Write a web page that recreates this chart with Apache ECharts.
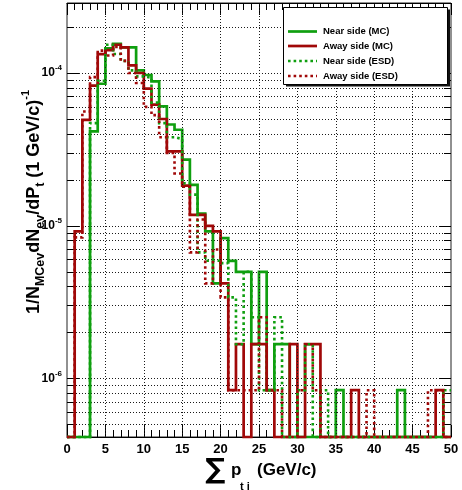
<!DOCTYPE html>
<html>
<head>
<meta charset="utf-8">
<script src="https://cdn.jsdelivr.net/npm/echarts@6/dist/echarts.min.js"></script>
<style>
  html, body { margin: 0; padding: 0; background: #fff; }
  #chart { width: 462px; height: 490px; }
</style>
</head>
<body>
<div id="chart"></div>
<script>
// Histogram bin edges, 1 GeV/c wide bins from 0 to 50
const binEdges = [0,1,2,3,4,5,6,7,8,9,10,11,12,13,14,15,16,17,18,19,20,21,22,23,24,25,
  26,27,28,29,30,31,32,33,34,35,36,37,38,39,40,41,42,43,44,45,46,47,48,49,50];

// Per-bin contents (one value per bin, 50 bins)
const nearSideMC = [0,0,0,4.15e-5,8.5e-5,1.45e-4,1.55e-4,1.47e-4,1.47e-4,1.04e-4,
  9.7e-5,8.8e-5,6.05e-5,4.6e-5,4.25e-5,2.71e-5,1.85e-5,1.2e-5,9.2e-6,4.2e-6,
  8.3e-6,5.9e-6,5.0e-6,5.0e-6,1.68e-6,5.0e-6,8.4e-7,1.68e-6,1.68e-6,0,
  0,0,0,0,0,8.4e-7,0,0,0,0,
  0,0,0,8.4e-7,0,0,0,0,0,0];

const awaySideMC = [0,9.2e-6,4.94e-5,8.26e-5,1.33e-4,1.41e-4,1.53e-4,1.47e-4,1.12e-4,1.0e-4,
  7.9e-5,6.2e-5,5.0e-5,3.07e-5,3.07e-5,1.83e-5,1.18e-5,1.18e-5,1.0e-5,9.2e-6,
  4.2e-6,8.4e-7,1.68e-6,0,1.68e-6,1.68e-6,8.4e-7,0,0,1.68e-6,
  0,1.68e-6,1.68e-6,0,0,0,0,8.4e-7,0,0,
  0,0,0,0,0,0,0,0,8.4e-7,0];

const nearSideESD = [0,0,0,4.7e-5,8.9e-5,1.53e-4,1.33e-4,1.2e-4,1.04e-4,9.5e-5,
  9.3e-5,6.4e-5,4.7e-5,3.8e-5,3.7e-5,1.9e-5,1.6e-5,6.7e-6,5.9e-6,5.9e-6,
  5.7e-6,3.4e-6,1.68e-6,5.0e-6,2.52e-6,8.4e-7,8.4e-7,2.52e-6,0,0,
  8.4e-7,1.68e-6,0,8.4e-7,0,0,0,0,0,0,
  0,0,0,0,0,0,0,0,0,8.4e-7];

const awaySideESD = [0,8.4e-6,5.6e-5,9.4e-5,1.40e-4,1.30e-4,1.48e-4,1.2e-4,1.0e-4,8.6e-5,
  6.0e-5,5.3e-5,3.8e-5,3.0e-5,2.2e-5,1.8e-5,6.7e-6,1.1e-5,4.2e-6,7.0e-6,
  3.4e-6,8.4e-7,8.4e-7,8.4e-7,8.4e-7,2.52e-6,8.4e-7,8.4e-7,0,0,
  8.4e-7,1.68e-6,8.4e-7,0,0,0,0,0,0,8.4e-7,
  0,0,0,0,0,0,0,8.4e-7,8.4e-7,0];

const seriesNames = ['Near side (MC)', 'Away side (MC)', 'Near side (ESD)', 'Away side (ESD)'];

// Log axis range and tick positions
const yMin = 4.15e-7;
const yMax = 2.87e-4;
const yTicksMajor = [1e-6, 1e-5, 1e-4];
const yTicksMinor = [5e-7,6e-7,7e-7,8e-7,9e-7,
  2e-6,3e-6,4e-6,5e-6,6e-6,7e-6,8e-6,9e-6,
  2e-5,3e-5,4e-5,5e-5,6e-5,7e-5,8e-5,9e-5,
  2e-4];
const xGridValues = [5,10,15,20,25,30,35,40,45];

const GREEN = '#0f9f0f';
const RED = '#a00808';
const FONT = '"Liberation Sans", Arial, Helvetica, sans-serif';

// Outline of a histogram: flat top over each bin, empty bins sit on the frame bottom
function histOutline(values) {
  const pts = [];
  for (let i = 0; i < values.length; i++) {
    const v = values[i] > 0 ? values[i] : yMin;
    pts.push([binEdges[i], v], [binEdges[i + 1], v]);
  }
  return pts;
}

const gridDots = { color: '#1a1a1a', type: [1, 2], width: 1 };

function logYAxis(position, ticks, tickLen, withLabels, withSplit) {
  return {
    type: 'log', min: yMin, max: yMax, position: position,
    axisLine: { show: false },
    axisTick: { show: true, inside: true, length: tickLen, customValues: ticks,
      lineStyle: { color: '#000', width: 1 } },
    minorTick: { show: false },
    axisLabel: withLabels ? {
      show: true, customValues: ticks, margin: 5,
      formatter: function (v) {
        const e = Math.round(Math.log10(v));
        if (Math.abs(Math.log10(v) - e) > 1e-6) return '';
        return '{b|10}{s|' + e + '}';
      },
      rich: {
        b: { fontSize: 12, fontWeight: 'bold', fontFamily: FONT, color: '#000', lineHeight: 18, verticalAlign: 'middle' },
        s: { fontSize: 8, fontWeight: 'bold', fontFamily: FONT, color: '#000', lineHeight: 9, verticalAlign: 'top' }
      }
    } : { show: false },
    splitLine: withSplit ? { show: true, lineStyle: gridDots } : { show: false }
  };
}

function linearXAxis(position, withLabels) {
  return {
    type: 'value', min: 0, max: 50, interval: 5, position: position,
    axisLine: { show: true, lineStyle: { color: '#000', width: 1 } },
    axisTick: { show: true, inside: true, length: 12, lineStyle: { color: '#000', width: 1 } },
    minorTick: { show: true, splitNumber: 5, length: 7, lineStyle: { color: '#000', width: 1 } },
    axisLabel: withLabels ? { show: true, margin: 6, fontSize: 13, fontWeight: 'bold',
      fontFamily: FONT, color: '#000' } : { show: false },
    splitLine: { show: false }
  };
}

const styles = [
  { color: GREEN, type: 'solid', dash: null, width: 2.7 },
  { color: RED, type: 'solid', dash: null, width: 2.7 },
  { color: GREEN, type: [2.6, 3], dash: [2.6, 3], width: 2.6 },
  { color: RED, type: [2.6, 3], dash: [2.6, 3], width: 2.6 }
];
const datasets = [nearSideMC, awaySideMC, nearSideESD, awaySideESD];

const chart = echarts.init(document.getElementById('chart'), null, { renderer: 'canvas' });

const histSeries = datasets.map(function (vals, i) {
  return {
    name: seriesNames[i], type: 'line', xAxisIndex: 0, yAxisIndex: 0,
    data: histOutline(vals), symbol: 'none', showSymbol: false, clip: false,
    lineStyle: { color: styles[i].color, width: styles[i].width, type: styles[i].type, join: 'miter', cap: 'butt' },
    itemStyle: { color: styles[i].color },
    z: 3 + i
  };
});

// Vertical dotted grid lines at the major x ticks
histSeries.push({
  type: 'line', name: 'xgrid', xAxisIndex: 0, yAxisIndex: 0, data: [], silent: true, z: 1,
  markLine: {
    silent: true, symbol: ['none', 'none'], label: { show: false },
    lineStyle: gridDots, animation: false,
    data: xGridValues.map(function (x) { return { xAxis: x }; })
  }
});

// Legend box with a drop shadow, line samples and entry texts
const legendBox = { x: 283.5, y: 7.5, w: 164, h: 77 };
const legendRows = [31.5, 46, 61, 76];
const legendGraphics = [
  { type: 'rect', z: 8, shape: { x: legendBox.x + 2.5, y: legendBox.y + 2, width: legendBox.w, height: legendBox.h }, style: { fill: '#111' } },
  { type: 'rect', z: 8, shape: { x: legendBox.x, y: legendBox.y, width: legendBox.w, height: legendBox.h }, style: { fill: '#fff', stroke: '#000', lineWidth: 1 } }
];
seriesNames.forEach(function (name, i) {
  legendGraphics.push({
    type: 'line', z: 9, shape: { x1: 288, y1: legendRows[i], x2: 317, y2: legendRows[i] },
    style: { stroke: styles[i].color, lineWidth: styles[i].width, lineDash: styles[i].dash }
  });
  legendGraphics.push({
    type: 'text', z: 9, x: 323, y: legendRows[i],
    style: { text: name, align: 'left', verticalAlign: 'middle', font: 'bold 9.5px ' + FONT, fill: '#000' }
  });
});

chart.setOption({
  animation: false,
  backgroundColor: '#fff',
  grid: { left: 67, right: 11, top: 3, bottom: 53, show: true, borderColor: '#222', borderWidth: 1, backgroundColor: 'transparent' },
  xAxis: [linearXAxis('bottom', true), linearXAxis('top', false)],
  yAxis: [
    logYAxis('left', yTicksMajor, 12, true, true),
    logYAxis('left', yTicksMinor, 7, false, true),
    logYAxis('right', yTicksMajor, 12, false, false),
    logYAxis('right', yTicksMinor, 7, false, false)
  ],
  series: histSeries,
  graphic: legendGraphics.concat([
    {
      type: 'text', z: 10, x: 34, y: 202, rotation: Math.PI / 2,
      style: {
        text: '{m|1/N}{sb|MCev}{m|dN}{sb|ev}{m|/dP}{sb|t}{m| (1 GeV/c)}{sp|-1}',
        align: 'center', verticalAlign: 'middle',
        rich: {
          m: { fontSize: 18, fontWeight: 'bold', fontFamily: FONT, fill: '#000', lineHeight: 27, verticalAlign: 'middle' },
          sb: { fontSize: 12.5, fontWeight: 'bold', fontFamily: FONT, fill: '#000', lineHeight: 12, verticalAlign: 'bottom' },
          sp: { fontSize: 11, fontWeight: 'bold', fontFamily: FONT, fill: '#000', lineHeight: 11, verticalAlign: 'top' }
        }
      }
    },
    { type: 'text', z: 10, x: 215, y: 471, style: { text: '∑', align: 'center', verticalAlign: 'middle',
      font: 'bold 28px "DejaVu Sans", sans-serif', fill: '#000' } },
    { type: 'text', z: 10, x: 231, y: 470, style: { text: 'p', align: 'left', verticalAlign: 'middle',
      font: 'bold 17px ' + FONT, fill: '#000' } },
    { type: 'text', z: 10, x: 240, y: 487, style: { text: 't i', align: 'left', verticalAlign: 'middle',
      font: 'bold 11px ' + FONT, fill: '#000' } },
    { type: 'text', z: 10, x: 257, y: 470, style: { text: '(GeV/c)', align: 'left', verticalAlign: 'middle',
      font: 'bold 17px ' + FONT, fill: '#000' } }
  ])
});
</script>
</body>
</html>
